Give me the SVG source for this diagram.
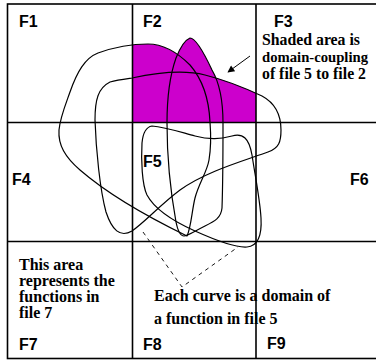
<svg xmlns="http://www.w3.org/2000/svg" width="376" height="360" viewBox="0 0 376 360">
<style>
.grid{fill:none;stroke:#000;stroke-width:1.6}
.curve{fill:none;stroke:#000;stroke-width:1.2;stroke-linejoin:round}
.shade{fill:#cc00cc;stroke:none}
.cell{font-family:"Liberation Sans",Arial,sans-serif;font-weight:bold;font-size:16px;fill:#000}
.note{font-family:"Liberation Serif","Times New Roman",serif;font-weight:bold;font-size:16px;fill:#000}
.dash{fill:none;stroke:#000;stroke-width:0.9;stroke-dasharray:4,4}
</style>
<defs>
<clipPath id="f2clip"><rect x="132.5" y="4" width="123.5" height="118.5"/></clipPath>
<path id="curveA" d="M187,236 C191,228 192,210 195,198 C199,183 207,172 209,160 C211,148 211,135 210,122 C209,100 203,80 190,65 C178,53 163,44 148,44 C130,44 112,48 98,53 C85,58 77,72 70,92 C65,106 60,118 59,130 C58,145 65,157 80,170 C110,196 150,218 187,236 Z"/>
<path id="curveB" d="M190,38 C185,40 180,48 176,58 C170,75 167,95 167,123 C167,160 172,200 176,222 C178,232 181,236 184,236 C188,236 195,231 205,226 C215,221 221,218 222,208 C223,180 223,150 223,123 C223,100 219,82 212,70 C205,55 196,38 190,38 Z"/>
<path id="curveC" d="M132,78 C160,72 185,70 205,75 C225,80 245,88 262,96 C275,103 281,115 281,130 C281,142 279,148 268,152 C240,162 205,172 180,190 C160,205 145,222 132,231 C120,238 112,230 106,212 C100,190 96,150 95,120 C95,100 98,88 110,82 C117,80 125,79 132,78 Z"/>
<path id="curveD" d="M152,126 C165,127 180,132 195,136 C210,140 220,139 232,136 C243,133 249,138 252,155 C255,175 260,200 261,218 C262,235 258,246 247,247 C235,248 215,240 195,231 C175,222 155,210 147,195 C142,185 141,160 142,143 C143,132 146,127 152,126 Z"/>
<marker id="arrowHead" viewBox="0 0 10 10" refX="9" refY="5" markerWidth="9" markerHeight="7" markerUnits="userSpaceOnUse" orient="auto">
<path d="M0,0 L10,5 L0,10 Z" fill="#000"/>
</marker>
</defs>

<g id="shading" clip-path="url(#f2clip)">
<use href="#curveA" class="shade"/>
<use href="#curveB" class="shade"/>
<use href="#curveC" class="shade"/>
</g>

<g id="grid">
<rect class="grid" x="7.5" y="4" width="380" height="354.5"/>
<line class="grid" x1="132.5" y1="4" x2="132.5" y2="358.5"/>
<line class="grid" x1="256" y1="4" x2="256" y2="358.5"/>
<line class="grid" x1="7.5" y1="122.5" x2="376" y2="122.5"/>
<line class="grid" x1="7.5" y1="241.5" x2="376" y2="241.5"/>
</g>

<g id="connectors">
<use href="#curveA" class="curve"/>
<use href="#curveB" class="curve"/>
<use href="#curveC" class="curve"/>
<use href="#curveD" class="curve"/>
<polyline class="dash" points="143,232 182,287 238,247"/>
<line x1="250" y1="56" x2="228" y2="72" stroke="#000" stroke-width="1" marker-end="url(#arrowHead)"/>
</g>

<g id="cell-labels">
<text class="cell" x="19" y="27">F1</text>
<text class="cell" x="143" y="27">F2</text>
<text class="cell" x="274" y="27">F3</text>
<text class="cell" x="12" y="185">F4</text>
<text class="cell" x="143" y="167">F5</text>
<text class="cell" x="350" y="185">F6</text>
<text class="cell" x="19" y="350">F7</text>
<text class="cell" x="143" y="350">F8</text>
<text class="cell" x="267" y="349">F9</text>
</g>

<g id="note-shaded">
<text class="note" x="262" y="45" textLength="98" lengthAdjust="spacingAndGlyphs">Shaded area is</text>
<text class="note" x="262" y="62" style="font-size:15px" textLength="106" lengthAdjust="spacingAndGlyphs">domain-coupling</text>
<text class="note" x="262" y="79" textLength="104" lengthAdjust="spacingAndGlyphs">of file 5 to file 2</text>
</g>

<g id="note-file7">
<text class="note" x="19" y="270">This area</text>
<text class="note" x="19" y="286">represents the</text>
<text class="note" x="19" y="302">functions in</text>
<text class="note" x="19" y="318">file 7</text>
</g>

<g id="note-curves">
<text class="note" x="154" y="301">Each curve is a domain of</text>
<text class="note" x="154" y="324">a function in file 5</text>
</g>
</svg>
